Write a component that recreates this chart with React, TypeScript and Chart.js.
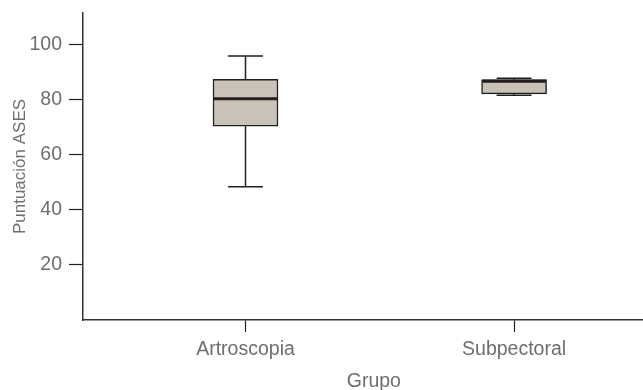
import React, { useEffect, useRef } from 'react';
import { Chart, registerables } from 'chart.js';

Chart.register(...registerables);

// ---- data ----
const groups = ['Artroscopia', 'Subpectoral'];
const groupPos = [1, 2];
const mins = [48.4, 81.6];
const q1s = [70.4, 82.1];
const medians = [80.4, 86.7];
const q3s = [87.4, 87.3];
const maxs = [95.9, 87.8];
const yTicks = [20, 40, 60, 80, 100];

const yTitle = 'Puntuación ASES';
const xTitle = '    Grupo';

// ---- style constants ----
const FONT = "'Liberation Sans', Arial, Helvetica, sans-serif";
const TEXT = '#6d6e71';
const DARK = '#231f20';
const BOX_FILL = '#c9c2b8';
const CAP_HALF = 0.065;
const MED_HALF = 0.118;

export default function App() {
  const ref = useRef<HTMLCanvasElement | null>(null);

  useEffect(() => {
    document.body.style.margin = '0';
    const canvas = ref.current;
    if (!canvas) return;

    const gap = (x: number) => ({ x, y: null as any });
    const whiskers: any[] = [];
    const medianPts: any[] = [];
    groupPos.forEach((x, i) => {
      whiskers.push(
        { x, y: mins[i] }, { x, y: q1s[i] }, gap(x),
        { x, y: q3s[i] }, { x, y: maxs[i] }, gap(x),
        { x: x - CAP_HALF, y: mins[i] }, { x: x + CAP_HALF, y: mins[i] }, gap(x),
        { x: x - CAP_HALF, y: maxs[i] }, { x: x + CAP_HALF, y: maxs[i] }, gap(x)
      );
      medianPts.push(
        { x: x - MED_HALF, y: medians[i] }, { x: x + MED_HALF, y: medians[i] }, gap(x)
      );
    });

    const chart = new Chart(canvas, {
      type: 'bar',
      data: {
        datasets: [
          {
            type: 'line',
            label: 'whiskers',
            data: whiskers,
            borderColor: DARK,
            borderWidth: 1.5,
            pointRadius: 0,
            spanGaps: false,
            order: 3,
          } as any,
          {
            type: 'bar',
            label: 'box',
            data: groupPos.map((x, i) => ({ x, y: [q1s[i], q3s[i]] })),
            backgroundColor: BOX_FILL,
            borderColor: DARK,
            borderWidth: 1.5,
            borderSkipped: false,
            barThickness: 65,
            order: 2,
          } as any,
          {
            type: 'line',
            label: 'median',
            data: medianPts,
            borderColor: DARK,
            borderWidth: 3,
            pointRadius: 0,
            spanGaps: false,
            order: 1,
          } as any,
        ],
      },
      options: {
        responsive: false,
        animation: false,
        layout: { padding: { top: 13, left: 0, right: 0, bottom: 0 } },
        plugins: { legend: { display: false }, tooltip: { enabled: false } },
        scales: {
          x: {
            type: 'linear',
            offset: false,
            min: 0.395,
            max: 2.48,
            afterBuildTicks: (s: any) => {
              s.ticks = groupPos.map((v) => ({ value: v }));
            },
            afterFit: (s: any) => {
              s.height = 70;
              s.paddingLeft = 0;
              s.paddingRight = 0;
            },
            ticks: {
              callback: (v: any) => {
                const k = groupPos.indexOf(Number(v));
                return k >= 0 ? groups[k] : '';
              },
              font: { family: FONT, size: 19.5 },
              color: TEXT,
              padding: 5.5,
              maxRotation: 0,
              autoSkip: false,
            },
            grid: { offset: false, drawOnChartArea: false, tickLength: 12, tickColor: DARK, tickWidth: 1.2 },
            border: { color: '#333', width: 1.5 },
            title: {
              display: true,
              text: xTitle,
              font: { family: FONT, size: 19.5, lineHeight: 0.8 },
              color: TEXT,
              padding: { top: 0, bottom: 1 },
            },
          },
          y: {
            type: 'linear',
            min: 0,
            max: 111.5,
            afterBuildTicks: (s: any) => {
              s.ticks = yTicks.map((v) => ({ value: v }));
            },
            afterFit: (s: any) => {
              s.width = 83;
              s.paddingTop = 0;
              s.paddingBottom = 0;
            },
            ticks: {
              font: { family: FONT, size: 19.5 },
              color: TEXT,
              padding: 7,
            },
            grid: { drawOnChartArea: false, tickLength: 14, tickColor: DARK, tickWidth: 1.2 },
            border: { color: '#333', width: 1.5 },
            title: {
              display: true,
              text: yTitle,
              font: { family: FONT, size: 17 },
              color: TEXT,
              padding: { top: 10, bottom: 0 },
            },
          },
        },
      } as any,
    });

    return () => chart.destroy();
  }, []);

  return (
    <div style={{ position: 'absolute', left: 0, top: 0, width: 643, height: 390 }}>
      <canvas ref={ref} width={643} height={390} style={{ display: 'block' }} />
    </div>
  );
}
